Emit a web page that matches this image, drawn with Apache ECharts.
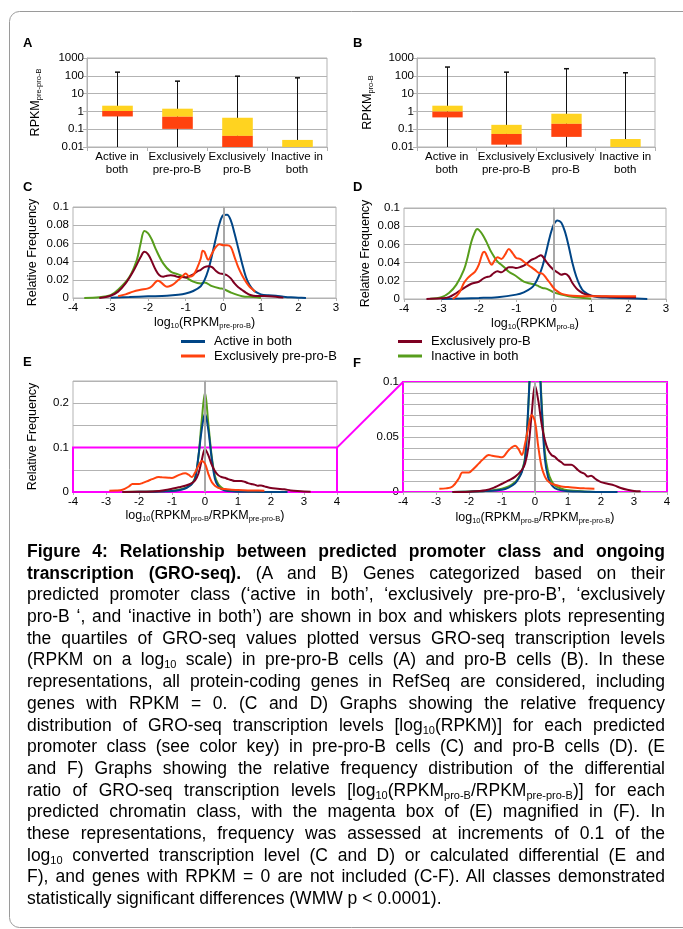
<!DOCTYPE html>
<html><head><meta charset="utf-8">
<script src="https://cdn.jsdelivr.net/npm/echarts@6/dist/echarts.min.js"></script>
<style>
html,body{margin:0;padding:0;background:#fff;}
#chart{position:absolute;left:0;top:0;width:683px;height:929px;}
#caption{position:absolute;left:27px;top:541px;width:638px;font-family:'Liberation Sans',Arial,sans-serif;font-size:17.5px;line-height:21.7px;color:#000;}
#caption .l{text-align:justify;text-align-last:justify;height:21.7px;}
#caption .last{text-align:left;text-align-last:left;}
#caption sub{font-size:11px;line-height:0;vertical-align:-3px;}
</style></head>
<body>
<div id="chart"></div>
<div id="caption">
<div class="l"><b>Figure 4: Relationship between predicted promoter class and ongoing</b></div>
<div class="l"><b>transcription (GRO-seq).</b> (A and B) Genes categorized based on their</div>
<div class="l">predicted promoter class (‘active in both’, ‘exclusively pre-pro-B’, ‘exclusively</div>
<div class="l">pro-B ‘, and ‘inactive in both’) are shown in box and whiskers plots representing</div>
<div class="l">the quartiles of GRO-seq values plotted versus GRO-seq transcription levels</div>
<div class="l">(RPKM on a log<sub>10</sub> scale) in pre-pro-B cells (A) and pro-B cells (B). In these</div>
<div class="l">representations, all protein-coding genes in RefSeq are considered, including</div>
<div class="l">genes with RPKM = 0. (C and D) Graphs showing the relative frequency</div>
<div class="l">distribution of GRO-seq transcription levels [log<sub>10</sub>(RPKM)] for each predicted</div>
<div class="l">promoter class (see color key) in pre-pro-B cells (C) and pro-B cells (D). (E</div>
<div class="l">and F) Graphs showing the relative frequency distribution of the differential</div>
<div class="l">ratio of GRO-seq transcription levels [log<sub>10</sub>(RPKM<sub>pro-B</sub>/RPKM<sub>pre-pro-B</sub>)] for each</div>
<div class="l">predicted chromatin class, with the magenta box of (E) magnified in (F). In</div>
<div class="l">these representations, frequency was assessed at increments of 0.1 of the</div>
<div class="l">log<sub>10</sub> converted transcription level (C and D) or calculated differential (E and</div>
<div class="l">F), and genes with RPKM = 0 are not included (C-F). All classes demonstrated</div>
<div class="l last">statistically significant differences (WMW p &lt; 0.0001).</div>
</div>
<script>
// ---------- DATA ----------
const boxCategories = ['Active in\nboth', 'Exclusively\npre-pro-B', 'Exclusively\npro-B', 'Inactive in\nboth'];
const seriesNames = ['Active in both', 'Exclusively pre-pro-B', 'Exclusively pro-B', 'Inactive in both'];
const logTicks = ['0.01', '0.1', '1', '10', '100', '1000'];

// Panel A (pre-pro-B)
const aLow = [0.01, 0.01, 0.01, 0.01];
const aQ1 = [0.52, 0.104, 0.01, 0.01];
const aMedian = [1.05, 0.5, 0.042, 0.01];
const aQ3 = [2.09, 1.42, 0.44, 0.025];
const aHigh = [160, 50, 95, 77];
// Panel B (pro-B)
const bLow = [0.01, 0.01, 0.01, 0.01];
const bQ1 = [0.46, 0.0135, 0.037, 0.01];
const bMedian = [0.97, 0.054, 0.2, 0.01];
const bQ3 = [2.09, 0.176, 0.74, 0.028];
const bHigh = [310, 160, 250, 148];

// Panel C: log10(RPKM pre-pro-B)
const cActive = [[-3,0.0004],[-2.5,0.001],[-2,0.0018],[-1.5,0.0025],[-1.2,0.0036],[-1,0.005],[-0.8,0.0077],[-0.6,0.013],[-0.5,0.0197],[-0.4,0.0307],[-0.3,0.047],[-0.2,0.065],[-0.1,0.0818],[0,0.091],[0.1,0.0915],[0.2,0.0854],[0.3,0.0708],[0.4,0.0544],[0.5,0.038],[0.6,0.0234],[0.7,0.0142],[0.8,0.0088],[0.9,0.0058],[1,0.004],[1.2,0.003],[1.4,0.0026],[1.6,0.0015],[1.8,0.0007],[2,0.0004],[2.2,0]];
const cExclPre = [[-2.8,0.002],[-2.6,0.004],[-2.4,0.007],[-2.2,0.009],[-2,0.0106],[-1.9,0.013],[-1.8,0.0175],[-1.75,0.019],[-1.7,0.0186],[-1.6,0.015],[-1.5,0.0124],[-1.4,0.0135],[-1.3,0.016],[-1.2,0.0197],[-1.1,0.0234],[-1,0.027],[-0.9,0.0234],[-0.8,0.025],[-0.7,0.0325],[-0.6,0.0434],[-0.55,0.052],[-0.5,0.0507],[-0.4,0.042],[-0.3,0.049],[-0.2,0.056],[-0.1,0.059],[0,0.058],[0.1,0.058],[0.2,0.056],[0.3,0.045],[0.4,0.0336],[0.5,0.025],[0.6,0.018],[0.7,0.0124],[0.8,0.0088],[0.85,0.007]];
const cExclPro = [[-3.3,0],[-3,0.0025],[-2.8,0.007],[-2.6,0.016],[-2.4,0.029],[-2.2,0.045],[-2.1,0.0507],[-2,0.048],[-1.9,0.04],[-1.8,0.031],[-1.7,0.025],[-1.6,0.0234],[-1.5,0.0245],[-1.4,0.025],[-1.3,0.0245],[-1.2,0.023],[-1.1,0.023],[-1,0.0226],[-0.9,0.024],[-0.8,0.026],[-0.7,0.029],[-0.6,0.031],[-0.5,0.034],[-0.4,0.035],[-0.3,0.034],[-0.2,0.03],[-0.1,0.027],[0,0.0263],[0.1,0.025],[0.2,0.0215],[0.3,0.016],[0.4,0.0117],[0.5,0.0088],[0.6,0.006],[0.7,0.0036],[0.8,0.0026],[1,0.0022],[1.2,0.002],[1.4,0.0015],[1.6,0.0004]];
const cInactive = [[-3.7,0],[-3.3,0.0008],[-3,0.003],[-2.8,0.009],[-2.5,0.023],[-2.3,0.042],[-2.2,0.06],[-2.1,0.0737],[-2,0.071],[-1.9,0.064],[-1.8,0.054],[-1.6,0.038],[-1.4,0.029],[-1.2,0.026],[-1,0.0226],[-0.8,0.018],[-0.6,0.016],[-0.5,0.017],[-0.3,0.013],[-0.1,0.0106],[0,0.01],[0.2,0.006],[0.5,0.002],[0.8,0.001],[1,0]];

// Panel D: log10(RPKM pro-B)
const dActive = [[-3,0],[-2,0.0011],[-1.5,0.002],[-1,0.0048],[-0.8,0.0073],[-0.6,0.012],[-0.5,0.0168],[-0.4,0.025],[-0.3,0.036],[-0.2,0.052],[-0.1,0.069],[0,0.0817],[0.1,0.0864],[0.2,0.084],[0.3,0.074],[0.4,0.058],[0.5,0.0396],[0.6,0.025],[0.7,0.0147],[0.8,0.0084],[1,0.0037],[1.2,0.002],[1.5,0.0015],[2,0.0007],[2.5,0]];
const dExclPre = [[-2.7,0],[-2.6,0.003],[-2.5,0.0084],[-2.4,0.0176],[-2.3,0.023],[-2.2,0.0267],[-2.1,0.03],[-2,0.0377],[-1.9,0.0505],[-1.85,0.052],[-1.8,0.0487],[-1.7,0.0396],[-1.65,0.0377],[-1.6,0.041],[-1.5,0.046],[-1.4,0.044],[-1.3,0.0487],[-1.2,0.055],[-1.1,0.0505],[-1,0.045],[-0.9,0.044],[-0.8,0.041],[-0.7,0.0377],[-0.6,0.035],[-0.5,0.032],[-0.4,0.0286],[-0.3,0.0278],[-0.2,0.023],[-0.1,0.0176],[0,0.012],[0.1,0.0084],[0.2,0.0059],[0.3,0.0048],[0.5,0.0037],[1,0.003],[1.5,0.003],[2,0.003],[2.2,0.003]];
const dExclPro = [[-3.4,0],[-3,0.0007],[-2.8,0.002],[-2.6,0.0066],[-2.4,0.012],[-2.2,0.0168],[-2,0.019],[-1.9,0.022],[-1.8,0.024],[-1.7,0.025],[-1.6,0.0286],[-1.5,0.0304],[-1.4,0.0293],[-1.3,0.032],[-1.2,0.035],[-1.1,0.035],[-1,0.034],[-0.9,0.035],[-0.8,0.0366],[-0.7,0.0396],[-0.6,0.043],[-0.5,0.0447],[-0.4,0.047],[-0.35,0.048],[-0.3,0.047],[-0.2,0.041],[-0.1,0.036],[0,0.032],[0.1,0.0293],[0.2,0.0267],[0.3,0.0278],[0.4,0.025],[0.5,0.0176],[0.6,0.012],[0.7,0.0084],[0.8,0.0059],[1,0.0037],[1.2,0.003],[1.5,0.0026],[2,0.002],[2.2,0.0018]];
const dInactive = [[-3.3,0.0004],[-3,0.002],[-2.8,0.0066],[-2.6,0.0158],[-2.4,0.032],[-2.3,0.046],[-2.2,0.063],[-2.1,0.074],[-2.05,0.077],[-2,0.076],[-1.9,0.0707],[-1.8,0.063],[-1.7,0.054],[-1.6,0.047],[-1.5,0.041],[-1.4,0.0377],[-1.3,0.034],[-1.2,0.03],[-1,0.025],[-0.8,0.019],[-0.6,0.0168],[-0.5,0.0158],[-0.4,0.0139],[-0.3,0.012],[-0.2,0.0114],[-0.1,0.0095],[0,0.0073],[0.2,0.0048],[0.4,0.003],[0.6,0.0018],[0.8,0.001],[1,0.0004]];

// Panels E/F: log10(RPKM pro-B / RPKM pre-pro-B)
const eActive = [[-2.5,0],[-2,0.0003],[-1.5,0.0008],[-1,0.002],[-0.8,0.004],[-0.6,0.008],[-0.5,0.012],[-0.4,0.018],[-0.3,0.03],[-0.2,0.08],[-0.1,0.14],[0,0.177],[0.1,0.14],[0.2,0.078],[0.3,0.03],[0.4,0.013],[0.5,0.0066],[0.6,0.0036],[0.8,0.0015],[1,0.0007],[1.5,0.0003],[2,0],[2.5,0]];
const eExclPre = [[-2.9,0.003],[-2.7,0.0033],[-2.5,0.005],[-2.3,0.0127],[-2.2,0.0178],[-2,0.0178],[-1.9,0.02],[-1.7,0.026],[-1.6,0.029],[-1.4,0.0337],[-1.3,0.033],[-1.1,0.032],[-1,0.0316],[-0.8,0.038],[-0.6,0.042],[-0.5,0.039],[-0.4,0.0337],[-0.3,0.044],[-0.2,0.059],[-0.1,0.07],[0,0.064],[0.1,0.041],[0.2,0.023],[0.3,0.014],[0.4,0.0096],[0.5,0.0075],[0.6,0.0066],[0.8,0.005],[1,0.0045],[1.3,0.0036],[1.5,0.0033],[1.8,0.003]];
const eExclPro = [[-2.5,0],[-2,0.0003],[-1.5,0.0015],[-1.2,0.0045],[-1,0.0075],[-0.8,0.0105],[-0.6,0.014],[-0.4,0.02],[-0.3,0.026],[-0.2,0.041],[-0.1,0.071],[0,0.097],[0.1,0.083],[0.2,0.062],[0.3,0.047],[0.4,0.038],[0.5,0.0337],[0.6,0.032],[0.7,0.029],[0.8,0.027],[0.9,0.0247],[1,0.0247],[1.1,0.0247],[1.2,0.023],[1.3,0.02],[1.4,0.0178],[1.5,0.0166],[1.6,0.014],[1.7,0.0148],[1.8,0.0127],[1.9,0.0105],[2,0.009],[2.2,0.0075],[2.4,0.006],[2.6,0.0036],[2.8,0.002],[3,0.0009],[3.2,0.0006]];
const eInactive = [[-2.5,0],[-2,0.0005],[-1.5,0.001],[-1.2,0.002],[-1,0.003],[-0.8,0.005],[-0.6,0.009],[-0.5,0.013],[-0.4,0.019],[-0.3,0.032],[-0.2,0.078],[-0.1,0.16],[0,0.224],[0.1,0.155],[0.2,0.082],[0.3,0.036],[0.4,0.018],[0.5,0.01],[0.6,0.006],[0.8,0.003],[1,0.0015],[1.5,0.0005],[2,0]];

// ---------- STYLE ----------
const FONT = "'Liberation Sans', Arial, sans-serif";
const BLUE = '#004586', ORANGE = '#ff420e', YELLOW = '#ffd320', GREEN = '#579d1c', DRED = '#7e0021';
const GRIDC = '#b3b3b3', MAG = '#ff00ff';
const colorOf = {'Active in both': BLUE, 'Exclusively pre-pro-B': ORANGE, 'Exclusively pro-B': DRED, 'Inactive in both': GREEN};

const chart = echarts.init(document.getElementById('chart'), null, {renderer: 'canvas'});

const richName = {
  m: {fontSize: 12.5, color: '#000', fontFamily: FONT},
  s: {fontSize: 7.5, color: '#000', fontFamily: FONT, verticalAlign: 'bottom', padding: [6, 0, 0, 0]}
};

function boxRender(params, api) {
  const idx = api.value(0);
  const pHigh = api.coord([idx, api.value(5)]);
  const pLow = api.coord([idx, api.value(1)]);
  const pQ1 = api.coord([idx, api.value(2)]);
  const pMed = api.coord([idx, api.value(3)]);
  const pQ3 = api.coord([idx, api.value(4)]);
  const band = api.coord([1, 1])[0] - api.coord([0, 1])[0];
  const w = band * 0.51;
  const cx = Math.round(pHigh[0]) + 0.5;
  const x0 = cx - w / 2;
  return {type: 'group', children: [
    {type: 'line', shape: {x1: cx, y1: pHigh[1], x2: cx, y2: pLow[1]}, style: {stroke: '#111', lineWidth: 1}},
    {type: 'line', shape: {x1: cx - 2.5, y1: pHigh[1], x2: cx + 2.5, y2: pHigh[1]}, style: {stroke: '#111', lineWidth: 1.5}},
    {type: 'rect', shape: {x: x0, y: pQ3[1], width: w, height: pMed[1] - pQ3[1]}, style: {fill: YELLOW}},
    {type: 'rect', shape: {x: x0, y: pMed[1], width: w, height: pQ1[1] - pMed[1]}, style: {fill: ORANGE}}
  ]};
}
function boxRows(low, q1, med, q3, high) {
  return low.map((v, i) => [i, low[i], q1[i], med[i], q3[i], high[i]]);
}

const axisLabelStyle = {color: '#000', fontSize: 11.5, fontFamily: FONT};
function logFmt(v) { return v >= 1 ? String(Math.round(v)) : String(parseFloat(v.toPrecision(1))); }

const grids = [
  {left: 87, top: 58, width: 240, height: 89},
  {left: 417, top: 58, width: 238, height: 89},
  {left: 73, top: 207, width: 263, height: 91},
  {left: 404, top: 208, width: 262, height: 91},
  {left: 73, top: 381, width: 264, height: 111},
  {left: 403, top: 382, width: 264, height: 110}
].map((g, i) => Object.assign({show: true, borderColor: i === 5 ? MAG : GRIDC, borderWidth: i === 5 ? 2 : 1, backgroundColor: 'transparent', containLabel: false}, g));

function catX(gi) {
  return {type: 'category', gridIndex: gi, data: boxCategories,
    axisLine: {lineStyle: {color: GRIDC}}, axisTick: {show: true, length: 4, lineStyle: {color: GRIDC}},
    axisLabel: Object.assign({interval: 0, margin: 4, lineHeight: 12.5}, axisLabelStyle), splitLine: {show: false}};
}
function logY(gi, sub, gap) {
  return {type: 'log', logBase: 10, gridIndex: gi, min: 0.01, max: 1000,
    name: '{m|RPKM}{s|' + sub + '}', nameLocation: 'middle', nameRotate: 90, nameGap: gap,
    nameTextStyle: {rich: richName},
    axisLine: {show: true, lineStyle: {color: GRIDC}}, axisTick: {show: true, length: 4, lineStyle: {color: GRIDC}},
    axisLabel: Object.assign({margin: 3, formatter: logFmt}, axisLabelStyle),
    splitLine: {show: true, lineStyle: {color: GRIDC}}, minorTick: {show: false}};
}
function valX(gi, min, max, nameRich, gap) {
  return {type: 'value', gridIndex: gi, min: min, max: max, interval: 1,
    name: nameRich, nameLocation: 'middle', nameGap: gap, nameTextStyle: {rich: richName},
    axisLine: {show: true, onZero: false, lineStyle: {color: GRIDC}}, axisTick: {show: true, length: 3, lineStyle: {color: GRIDC}},
    axisLabel: Object.assign({margin: 4}, axisLabelStyle), splitLine: {show: false}};
}
function valY(gi, max, interval, fmt, named, gap) {
  return {type: 'value', gridIndex: gi, min: 0, max: max, interval: interval,
    name: named ? 'Relative Frequency' : '', nameLocation: 'middle', nameRotate: 90, nameGap: gap,
    nameTextStyle: {color: '#000', fontSize: 12.5, fontFamily: FONT},
    axisLine: {show: true, lineStyle: {color: GRIDC}}, axisTick: {show: false},
    axisLabel: Object.assign({margin: 4, formatter: fmt}, axisLabelStyle),
    splitLine: {show: true, lineStyle: {color: GRIDC}}};
}
const fmtC = v => v === 0 ? '0' : String(parseFloat(v.toFixed(2)));
const fmtE = v => { const r = Math.round(v * 100); if (r % 10 !== 0) return ''; return r === 0 ? '0' : String(r / 100); };
const fmtF = v => { const r = Math.round(v * 1000); if (r % 50 !== 0) return ''; return r === 0 ? '0' : String(r / 1000); };

const nameLogPre = '{m|log}{s|10}{m|(RPKM}{s|pre-pro-B}{m|)}';
const nameLogPro = '{m|log}{s|10}{m|(RPKM}{s|pro-B}{m|)}';
const nameRatio = '{m|log}{s|10}{m|(RPKM}{s|pro-B}{m|/RPKM}{s|pre-pro-B}{m|)}';

const xAxes = [catX(0), catX(1),
  valX(2, -4, 3, nameLogPre, 18), valX(3, -4, 3, nameLogPro, 18),
  valX(4, -4, 4, nameRatio, 17), valX(5, -4, 4, nameRatio, 19)];
const yAxes = [logY(0, 'pre-pro-B', 44), logY(1, 'pro-B', 42),
  valY(2, 0.1, 0.02, fmtC, true, 34), valY(3, 0.1, 0.02, fmtC, true, 32),
  valY(4, 0.25, 0.05, fmtE, true, 34), valY(5, 0.1, 0.01, fmtF, false, 30)];

const series = [];
series.push({type: 'custom', xAxisIndex: 0, yAxisIndex: 0, renderItem: boxRender, encode: {x: 0, y: [1, 2, 3, 4, 5]}, data: boxRows(aLow, aQ1, aMedian, aQ3, aHigh), z: 3, silent: true});
series.push({type: 'custom', xAxisIndex: 1, yAxisIndex: 1, renderItem: boxRender, encode: {x: 0, y: [1, 2, 3, 4, 5]}, data: boxRows(bLow, bQ1, bMedian, bQ3, bHigh), z: 3, silent: true});

const curveSets = [
  [cActive, cExclPre, cExclPro, cInactive],
  [dActive, dExclPre, dExclPro, dInactive],
  [eActive, eExclPre, eExclPro, eInactive],
  [eActive, eExclPre, eExclPro, eInactive]
];
const drawOrder = [3, 0, 2, 1]; // green, blue, dark red, orange
curveSets.forEach((set, k) => {
  const gi = k + 2;
  series.push({type: 'line', xAxisIndex: gi, yAxisIndex: gi, data: [], silent: true, z: 1,
    markLine: {silent: true, symbol: ['none', 'none'], label: {show: false}, animation: false,
      lineStyle: {color: '#a8a8a8', width: 2, type: 'solid'}, data: [{xAxis: 0}]}});
  drawOrder.forEach((si, j) => {
    series.push({type: 'line', name: seriesNames[si], xAxisIndex: gi, yAxisIndex: gi, data: set[si],
      smooth: 0.35, showSymbol: false, symbol: 'none', clip: true, z: 2 + j,
      lineStyle: {color: colorOf[seriesNames[si]], width: 2}, itemStyle: {color: colorOf[seriesNames[si]]}});
  });
});
series.push({type: 'line', xAxisIndex: 4, yAxisIndex: 4, data: [], silent: true, z: 10,
  markArea: {silent: true, itemStyle: {color: 'rgba(0,0,0,0)', borderColor: MAG, borderWidth: 2},
    data: [[{coord: [-4, 0]}, {coord: [4, 0.1]}]]}});

const legendText = {color: '#000', fontSize: 13, fontFamily: FONT, lineHeight: 13, padding: [0, 0, 0, 4]};
const legends = [
  {left: 181, top: 335, orient: 'vertical', itemGap: 1.5, itemWidth: 24, itemHeight: 3, icon: 'rect', padding: 0,
    data: ['Active in both', 'Exclusively pre-pro-B'], textStyle: legendText, selectedMode: false},
  {left: 398, top: 335, orient: 'vertical', itemGap: 1.5, itemWidth: 24, itemHeight: 3, icon: 'rect', padding: 0,
    data: ['Exclusively pro-B', 'Inactive in both'], textStyle: legendText, selectedMode: false}
];

const letter = (id, t, x, y) => ({id: id, type: 'text', left: x, top: y, style: {text: t, font: 'bold 13px ' + FONT, fill: '#000'}});
const graphics = [
  {id: 'frame', type: 'rect', shape: {x: 9.5, y: 11.5, width: 720, height: 916, r: 10}, style: {fill: 'none', stroke: '#9a9a9a', lineWidth: 1}, z: 0},
  letter('la', 'A', 23, 37), letter('lb', 'B', 353, 37), letter('lc', 'C', 23, 181),
  letter('ld', 'D', 353, 181), letter('le', 'E', 23, 356), letter('lf', 'F', 353, 357)
];

chart.setOption({
  animation: false,
  textStyle: {fontFamily: FONT},
  grid: grids, xAxis: xAxes, yAxis: yAxes, series: series, legend: legends,
  graphic: {elements: graphics}
});

const eTop = chart.convertToPixel({xAxisIndex: 4, yAxisIndex: 4}, [4, 0.1]);
const eBot = chart.convertToPixel({xAxisIndex: 4, yAxisIndex: 4}, [4, 0]);
const fTop = chart.convertToPixel({xAxisIndex: 5, yAxisIndex: 5}, [-4, 0.1]);
const fBot = chart.convertToPixel({xAxisIndex: 5, yAxisIndex: 5}, [-4, 0]);
chart.setOption({graphic: {elements: [
  {id: 'c1', type: 'line', shape: {x1: eTop[0], y1: eTop[1], x2: fTop[0], y2: fTop[1]}, style: {stroke: MAG, lineWidth: 2}, z: 20},
  {id: 'c2', type: 'line', shape: {x1: eBot[0], y1: eBot[1], x2: fBot[0], y2: fBot[1]}, style: {stroke: MAG, lineWidth: 2}, z: 20}
]}});
</script>
</body></html>
